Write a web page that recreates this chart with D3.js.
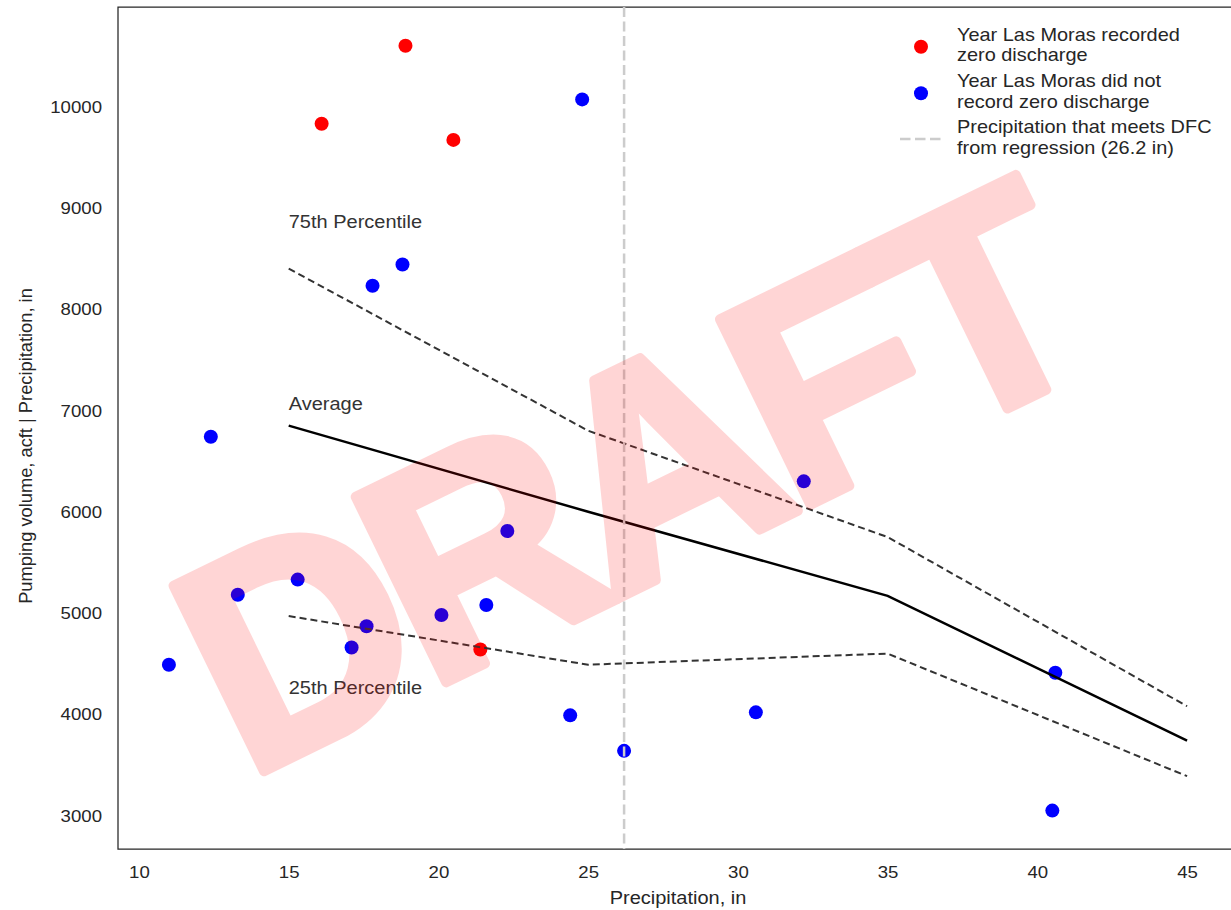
<!DOCTYPE html>
<html>
<head>
<meta charset="utf-8">
<script src="https://cdn.jsdelivr.net/npm/d3@7"></script>
<style>
  html, body { margin: 0; padding: 0; background: #fff; }
  svg { display: block; }
  text { font-family: "Liberation Sans", Arial, sans-serif; }
</style>
</head>
<body>
<svg id="chart" width="1231" height="910"></svg>
<script>
// ---- data ----
const zeroPrecip    = [18.9, 16.1, 20.5, 21.4];
const zeroPumping   = [10600, 9830, 9670, 4640];
const nonzeroPrecip = [24.8, 18.8, 17.8, 12.4, 32.2, 22.3, 15.3, 13.3, 17.6, 20.1, 21.6, 17.1, 11.0, 24.4, 26.2, 30.6, 40.6, 40.5];
const nonzeroPumping= [10070, 8440, 8230, 6740, 6300, 5810, 5330, 5180, 4870, 4980, 5080, 4660, 4490, 3990, 3640, 4020, 4410, 3050];
const binPrecip     = [15, 25, 35, 45];
const avgPumping    = [6850, 6000, 5170, 3740];
const p75Pumping    = [8400, 6800, 5750, 4080];
const p25Pumping    = [4970, 4490, 4600, 3390];
const dfcPrecip     = 26.2;
const xTicks        = [10, 15, 20, 25, 30, 35, 40, 45];
const yTicks        = [3000, 4000, 5000, 6000, 7000, 8000, 9000, 10000];
const legendLabels  = [
  ["Year Las Moras recorded", "zero discharge"],
  ["Year Las Moras did not", "record zero discharge"],
  ["Precipitation that meets DFC", "from regression (26.2 in)"]
];
const annotations = [
  {text: "75th Percentile", x: 15, y: 8800},
  {text: "Average", x: 15, y: 7000},
  {text: "25th Percentile", x: 15, y: 4200}
];

// ---- layout ----
const svg = d3.select("#chart");
const L = 118, R = 1238, T = 7, B = 849;
const SX = 1.07;               // horizontal stretch of the reference text
const textCol = "#262626";
const x = d3.scaleLinear().domain([9.3, 46.7]).range([L, R]);
const y = d3.scaleLinear().domain([2671, 10982]).range([B, T]);

// axes
const gx = svg.append("g").attr("transform", `translate(0,${B})`)
  .call(d3.axisBottom(x).tickValues(xTicks).tickFormat(d3.format("d")).tickSize(0).tickPadding(16.5));
const gy = svg.append("g").attr("transform", `translate(${L},0)`)
  .call(d3.axisLeft(y).tickValues(yTicks).tickFormat(d3.format("d")).tickSize(0).tickPadding(16));
[gx, gy].forEach(g => {
  g.select(".domain").remove();
  g.selectAll("text").attr("fill", textCol).style("font-size", "17.4px")
    .attr("font-family", "Liberation Sans, Arial, sans-serif");
});
gx.selectAll("text").attr("transform", `scale(${SX},1)`);
gy.selectAll("text").attr("transform", `scale(${SX},1)`).attr("x", -16 / SX);

// spines (left, top, bottom; right is outside the picture)
svg.append("path")
  .attr("d", `M${R},${T}H${L}V${B}H${R}`)
  .attr("fill", "none").attr("stroke", textCol).attr("stroke-width", 1.25);

// axis labels
svg.append("text").attr("transform", `translate(${(L + R) / 2},904) scale(${SX},1)`)
  .attr("text-anchor", "middle").attr("fill", textCol).style("font-size", "18.7px")
  .text("Precipitation, in");
svg.append("text").attr("transform", `translate(32,446) rotate(-90)`)
  .attr("text-anchor", "middle").attr("fill", textCol).style("font-size", "18.3px")
  .text("Pumping volume, acft | Precipitation, in");

// scatter
const plot = svg.append("g");
plot.selectAll("circle.nz").data(nonzeroPrecip.map((p, i) => [p, nonzeroPumping[i]]))
  .join("circle").attr("class", "nz")
  .attr("cx", d => x(d[0])).attr("cy", d => y(d[1])).attr("r", 7).attr("fill", "#0000ff");
plot.selectAll("circle.z").data(zeroPrecip.map((p, i) => [p, zeroPumping[i]]))
  .join("circle").attr("class", "z")
  .attr("cx", d => x(d[0])).attr("cy", d => y(d[1])).attr("r", 7).attr("fill", "#ff0000");

// lines
const line = d3.line().x(d => x(d[0])).y(d => y(d[1]));
const mk = arr => binPrecip.map((p, i) => [p, arr[i]]);
plot.append("path").attr("d", line(mk(p75Pumping))).attr("fill", "none")
  .attr("stroke", "#333").attr("stroke-width", 2).attr("stroke-dasharray", "7,4");
plot.append("path").attr("d", line(mk(p25Pumping))).attr("fill", "none")
  .attr("stroke", "#333").attr("stroke-width", 2).attr("stroke-dasharray", "7,4");
plot.append("path").attr("d", line(mk(avgPumping))).attr("fill", "none")
  .attr("stroke", "#000").attr("stroke-width", 2.5);

// DFC vertical line
plot.append("line").attr("x1", x(dfcPrecip)).attr("x2", x(dfcPrecip)).attr("y1", T).attr("y2", B)
  .attr("stroke", "#cccccc").attr("stroke-width", 2.5).attr("stroke-dasharray", "10,4.5");

// annotations
plot.selectAll("text.ann").data(annotations).join("text").attr("class", "ann")
  .attr("transform", d => `translate(${x(d.x)},${y(d.y)}) scale(${SX},1)`)
  .attr("fill", "#333").style("font-size", "18.7px").text(d => d.text);

// legend
const leg = svg.append("g");
const legY = [46.7, 93.3, 139];
const legX = 921, legTextX = 957;
const LSX = 1.12;
leg.append("circle").attr("cx", legX).attr("cy", legY[0]).attr("r", 7).attr("fill", "#ff0000");
leg.append("circle").attr("cx", legX).attr("cy", legY[1]).attr("r", 7).attr("fill", "#0000ff");
leg.append("line").attr("x1", 900).attr("x2", 941).attr("y1", legY[2]).attr("y2", legY[2])
  .attr("stroke", "#cccccc").attr("stroke-width", 2.5).attr("stroke-dasharray", "10.5,4.5");
legendLabels.forEach((lines, i) => {
  lines.forEach((s, j) => {
    leg.append("text")
      .attr("transform", `translate(${legTextX},${legY[i] - 6 + j * 20.5}) scale(${LSX},1)`)
      .attr("fill", textCol).style("font-size", "17.8px").text(s);
  });
});

// watermark
const wm = svg.append("g").attr("opacity", 0.16);
wm.append("text")
  .attr("transform", "translate(246,780) rotate(-26)")
  .attr("fill", "#ff0000").attr("stroke", "#ff0000").attr("stroke-width", 10)
  .attr("stroke-linejoin", "round")
  .style("font-size", "300px").style("font-weight", "bold")
  .style("letter-spacing", "-14px")
  .text("DRAFT");
</script>
</body>
</html>
